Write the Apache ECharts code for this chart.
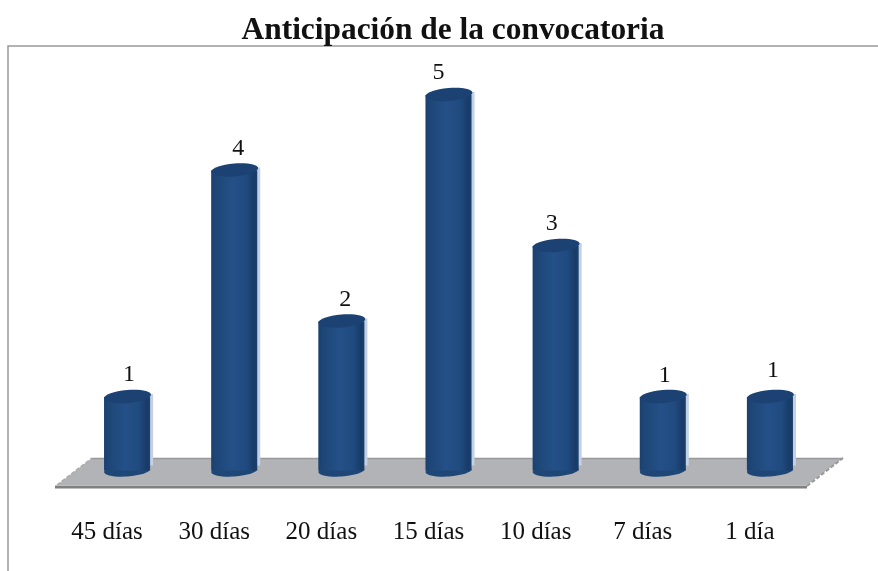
<!DOCTYPE html>
<html>
<head>
<meta charset="utf-8">
<style>html,body{margin:0;padding:0;background:#fff}#c{width:878px;height:571px}</style>
<script src="https://cdn.jsdelivr.net/npm/echarts@6/dist/echarts.min.js"></script>
</head>
<body>
<div id="c"></div>
<script>
const titleText = 'Anticipación de la convocatoria';
const categories = ['45 días', '30 días', '20 días', '15 días', '10 días', '7 días', '1 día'];
const values = [1, 4, 2, 5, 3, 1, 1];
const labelNudgeX = [2, 4, 4, -10, -4, 2, 3];
const labelNudgeY = [0, 0, 0, 0, 0, 1, -4];
const FONT = '"Liberation Serif", serif';

const chart = echarts.init(document.getElementById('c'), null, {renderer: 'canvas'});

const bodyGradient = new echarts.graphic.LinearGradient(0, 0, 1, 0, [
  {offset: 0, color: '#1b4070'},
  {offset: 0.12, color: '#1e4777'},
  {offset: 0.45, color: '#245088'},
  {offset: 0.75, color: '#204b80'},
  {offset: 0.93, color: '#183b68'},
  {offset: 1, color: '#1c406e'}
]);

function renderCylinder(params, api) {
  const idx = api.value(0);
  const val = api.value(1);
  const top = api.coord([idx, val]);
  const base = api.coord([idx, 0]);
  const rx = api.size([1, 0])[0] * 0.215;
  const cx = top[0];
  const ryTop = 6.5, ryBase = 6;
  const baseY = base[1] - 2;
  const i = params.dataIndex;
  return {
    type: 'group',
    children: [
      {type: 'rect', shape: {x: cx - rx + 3, y: top[1] - 3, width: 2 * rx, height: baseY - top[1] - 2},
        style: {fill: '#c3d1e2'}},
      {type: 'ellipse', shape: {cx: cx, cy: baseY, rx: rx, ry: ryBase},
        rotation: 0.06, originX: cx, originY: baseY, style: {fill: '#1e4777'}},
      {type: 'rect', shape: {x: cx - rx, y: top[1], width: 2 * rx, height: baseY - top[1]},
        style: {fill: bodyGradient}},
      {type: 'ellipse', shape: {cx: cx + 0.5, cy: top[1] - 0.5, rx: rx + 0.5, ry: ryTop},
        rotation: 0.08, originX: cx, originY: top[1], style: {fill: '#1b4272'}},
      {type: 'text', x: cx + labelNudgeX[i], y: top[1] - 22 + labelNudgeY[i],
        style: {text: String(val), font: '24px ' + FONT, fill: '#111', align: 'center', verticalAlign: 'middle'}}
    ]
  };
}

chart.setOption({
  animation: false,
  backgroundColor: '#fff',
  title: {
    text: titleText, left: 448, top: 10, textAlign: 'center',
    textStyle: {fontFamily: FONT, fontWeight: 'bold', fontSize: 31.4, color: '#111'}
  },
  grid: {left: 73.5, width: 750, top: 95, height: 377.5, containLabel: false},
  xAxis: {
    type: 'category', data: categories,
    axisLine: {show: false}, axisTick: {show: false}, splitLine: {show: false},
    axisLabel: {fontFamily: FONT, fontSize: 25, color: '#111', margin: 47, interval: 0, padding: [0, 40, 0, 0]}
  },
  yAxis: {type: 'value', min: 0, max: 5, interval: 1, show: false},
  graphic: [
    {type: 'polyline', z: 0, shape: {points: [[8, 571], [8, 46], [878, 46]]},
      style: {fill: 'none', stroke: '#999', lineWidth: 1.5}},
    {type: 'polygon', z: 0, shape: {points: [[57, 485], [92, 458], [843, 458], [807, 485]]},
      style: {fill: '#b1b3b6', stroke: null}},
    {type: 'line', z: 0, shape: {x1: 92, y1: 458.5, x2: 843, y2: 458.5}, style: {stroke: '#999', lineWidth: 1.5}},
    {type: 'line', z: 0, shape: {x1: 55, y1: 487, x2: 807, y2: 487}, style: {stroke: '#808080', lineWidth: 3}},
    {type: 'line', z: 0, shape: {x1: 57, y1: 485, x2: 92, y2: 458}, style: {stroke: '#aaa', lineWidth: 1.5, lineDash: [4, 2]}},
    {type: 'line', z: 0, shape: {x1: 807, y1: 486, x2: 843, y2: 458}, style: {stroke: '#999', lineWidth: 2, lineDash: [4, 2]}}
  ],
  series: [{
    type: 'custom', z: 5, clip: false,
    renderItem: renderCylinder,
    encode: {x: 0, y: 1},
    data: values.map((v, i) => [i, v])
  }]
});
</script>
</body>
</html>
